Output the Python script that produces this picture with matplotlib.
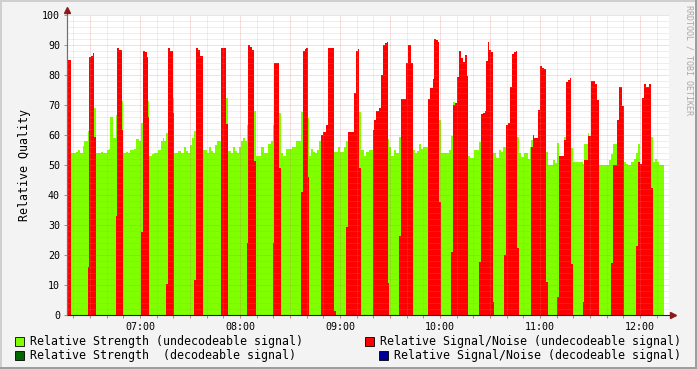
import numpy as np
import matplotlib.pyplot as plt
from matplotlib.patches import Rectangle
from matplotlib.lines import Line2D

# samples are 36 s apart, first one at 06:16:12 (minutes of day below)
t_start = 376.2
step_min = 0.6

# run lengths (number of 36 s samples) with the values of each run
seg_len = [1, 3, 5, 2, 2, 3, 1, 4, 1, 2, 2, 1, 2,
           5, 2, 4, 2, 1, 3, 3, 1, 2, 3, 1,
           3, 2, 2, 2, 2, 2, 3, 2,
           2, 2, 2, 1, 1,
           3, 2, 4, 3, 2, 1, 2, 2, 2, 3, 1,
           4, 3, 3, 2, 2, 2, 2, 2, 2,
           2, 2, 3,
           4, 2, 2, 2, 2, 2, 4,
           5, 2,
           3, 2, 2, 2, 2, 2, 2, 2, 2, 1,
           2, 2, 2, 2,
           5, 3, 4, 3, 2, 1,
           5, 2,
           2, 3, 6, 4, 5, 2,
           2, 1, 2, 1,
           2, 2, 2, 2, 2, 2,
           2, 3, 2, 6, 2,
           2, 2, 4, 2, 2,
           6, 2, 2, 1, 2,
           3, 2, 3, 4,
           1, 2, 3, 2, 2, 2, 2, 1, 1,
           2, 3, 2, 3, 2,
           5, 2, 3, 2,
           2, 2, 2, 2, 2, 5,
           2, 3, 1, 2, 2, 1, 2,
           8, 2, 2,
           2, 2, 2, 2, 2, 2, 2, 1,
           2, 2, 2, 5, 2,
           2, 2, 1, 2, 1, 2, 2, 1,
           2, 3, 2, 2, 1, 2,
           2, 2, 2, 2, 2, 1, 2,
           2, 3, 4, 2, 1,
           2, 1, 4, 2, 2, 2, 2, 2,
           5, 2, 2, 2,
           5, 2, 2, 2, 1, 2,
           10, 1, 4, 1, 2, 4, 2, 2,
           10, 2, 2, 4, 2, 3, 2,
           2, 2, 3, 3, 2, 2, 2,
           2, 2, 2, 3, 2, 2,
           2, 2, 2, 5]

strength = [0, 0, 54, 54.5, 55, 54, 56.5, 58, 61.5, 0, 0, 0, 69,
            54, 54.5, 54, 55, 55.5, 66, 59, 66.7, 0, 0, 71.3,
            54, 54.5, 54, 55, 55, 55.5, 58.7, 58,
            64, 0, 0, 0, 71.3,
            53.1, 53.6, 54, 55, 58, 59, 58, 60.8, 0, 0, 72.2,
            54, 54.7, 54, 55.9, 54.7, 54, 56.7, 58.9, 61.4,
            0, 0, 0,
            55, 54, 56, 54.7, 54, 56.7, 58,
            0, 72.2,
            54.7, 54, 56, 54.7, 54, 56, 58, 59.1, 58, 63.3,
            0, 0, 0, 68,
            53.1, 55.9, 54, 57, 58, 63.3,
            0, 67.4,
            54, 53.1, 55.2, 56.1, 58, 67.8,
            0, 0, 0, 65.8,
            53.1, 55.2, 54.4, 54, 55, 58,
            0, 0, 0, 0, 54.4,
            54.2, 56.1, 54.4, 56.1, 58,
            0, 0, 0, 0, 67.8,
            55, 53.1, 54.4, 55,
            0, 0, 0, 0, 0, 0, 0, 0, 58.6,
            55.9, 53.1, 55, 54, 59.4,
            0, 0, 0, 0,
            55, 54, 54.7, 57, 55.2, 56.1,
            68, 0, 0, 0, 0, 0, 65,
            54, 55, 59.8,
            71.1, 0, 0, 0, 0, 0, 0, 0,
            53.1, 52.4, 52.2, 55, 57.8,
            0, 0, 0, 0, 0, 0, 0, 53.9,
            53.9, 52.2, 55, 54.4, 56.1, 56.1,
            0, 0, 0, 0, 0, 0, 59.4,
            53.9, 52.8, 53.9, 52, 55.9,
            58.3, 0, 0, 0, 0, 0, 0, 54.4,
            50, 51.7, 50.6, 57.2,
            0, 59.4, 0, 0, 0, 55.6,
            50.9, 50.3, 57, 60.6, 0, 0, 0, 0,
            50, 51.7, 53.7, 57, 0, 0, 0,
            50.9, 50.3, 50, 50.9, 52, 53.9, 57,
            0, 0, 0, 0, 0, 59.4,
            51.1, 52, 50.9, 50]

snr = [87, 85, 0, 0, 0, 0, 0, 0, 16, 86, 86.5, 87.5, 59.5,
       0, 0, 0, 0, 0, 0, 0, 33, 89, 88.2, 61.7,
       0, 0, 0, 0, 0, 0, 0, 0,
       27.8, 88, 87.6, 86, 66,
       0, 0, 0, 0, 0, 0, 0, 10.3, 88.9, 88.1, 67.2,
       0, 0, 0, 0, 0, 0, 0, 0, 11.7,
       88.9, 88.3, 86.3,
       0, 0, 0, 0, 0, 0, 0,
       88.9, 63.7,
       0, 0, 0, 0, 0, 0, 0, 0, 0, 24.1,
       90, 89.4, 88.3, 51.3,
       0, 0, 0, 0, 0, 24,
       84.1, 49.1,
       0, 0, 0, 0, 0, 41.1,
       88.1, 88.6, 89.1, 46.1,
       0, 0, 0, 0, 0, 0,
       60, 61.1, 63.3, 89.1, 1.3,
       0, 0, 0, 0, 29.4,
       61.1, 74.1, 88.1, 88.6, 49.1,
       0, 0, 0, 0,
       61.7, 65, 68, 69.1, 80, 90, 90.8, 91, 10.6,
       0, 0, 0, 0, 26.3,
       71.9, 84.1, 90, 84.1,
       0, 0, 0, 0, 0, 0,
       71.9, 75.6, 78.6, 92, 91.7, 91.1, 37.8,
       0, 0, 21.1,
       70, 70.8, 79.4, 88.1, 85.6, 84.4, 86.7, 79.7,
       0, 0, 0, 0, 17.8,
       67, 67.4, 68, 84.8, 90.9, 88.3, 87.8, 4.4,
       0, 0, 0, 0, 0, 20,
       63.3, 63.9, 75.9, 87, 87.8, 88, 22.2,
       0, 0, 0, 0, 0,
       56.1, 60, 59.1, 68.3, 83, 82.2, 81.9, 11.1,
       0, 0, 0, 6.1,
       53, 58.3, 77.8, 78.3, 78.9, 17,
       0, 4.2, 51.7, 59.7, 59.7, 78, 77, 71.7,
       0, 0, 17.2, 50, 65, 75.9, 69.7,
       0, 0, 0, 0, 0, 23, 51.1,
       50.3, 72.2, 77, 75.9, 77, 42.4,
       0, 0, 0, 0]

hour_labels = ["07:00", "08:00", "09:00", "10:00", "11:00", "12:00"]
legend_left = ["Relative Strength (undecodeable signal)",
               "Relative Strength  (decodeable signal)"]
legend_right = ["Relative Signal/Noise (undecodeable signal)",
                "Relative Signal/Noise (decodeable signal)"]

edges = t_start + step_min * np.concatenate([[0], np.cumsum(seg_len)])

W, H = 697, 369
mono = "DejaVu Sans Mono"
fig = plt.figure(figsize=(W / 100, H / 100), dpi=100, facecolor="#F3F3F3")

# frame around the canvas
fig.add_artist(Rectangle((0, 1 - 2 / H), 1, 2 / H, transform=fig.transFigure, color="#CFCFCF", lw=0))
fig.add_artist(Rectangle((0, 0), 2 / W, 1, transform=fig.transFigure, color="#CFCFCF", lw=0))
fig.add_artist(Rectangle((1 - 2 / W, 0), 2 / W, 1, transform=fig.transFigure, color="#9E9E9E", lw=0))
fig.add_artist(Rectangle((0, 0), 1, 2 / H, transform=fig.transFigure, color="#9E9E9E", lw=0))

x0, x1, ytop, ybot = 67, 669, 15, 315
ax = fig.add_axes([x0 / W, (H - ybot) / H, (x1 - x0) / W, (ybot - ytop) / H])
ax.set_facecolor("white")
ax.set_xlim(edges[0], edges[0] + (x1 - x0) * step_min)
ax.set_ylim(0, 100)

ax.stairs(strength, edges, fill=True, color="#7FFF00", baseline=0, lw=0, zorder=1)
ax.stairs(snr, edges, fill=True, color="#FF0000", baseline=0, lw=0, zorder=2)

# grid, drawn over the areas like rrdtool does
dots = (0, (1, 1))
for m in range(380, 740, 10):
    if m % 30 == 0:
        ax.axvline(m, color="#D07070", lw=0.72, ls=dots, alpha=0.45, zorder=3)
    else:
        ax.axvline(m, color="#A0A0A0", lw=0.72, ls=dots, alpha=0.35, zorder=3)
for v in range(2, 101, 2):
    if v % 10 == 0:
        ax.axhline(v, color="#D07070", lw=0.72, ls=dots, alpha=0.45, zorder=3)
    else:
        ax.axhline(v, color="#A0A0A0", lw=0.72, ls=dots, alpha=0.35, zorder=3)

ax.set_xticks([420 + 60 * i for i in range(len(hour_labels))])
ax.set_xticklabels(hour_labels, fontsize=7.2, family=mono)
ax.set_xticks(range(380, 740, 10), minor=True)
ax.set_yticks(range(0, 101, 10))
ax.set_yticklabels([str(v) for v in range(0, 101, 10)], fontsize=7.2, family=mono)
ax.tick_params(axis="both", which="both", length=2, width=0.7, color="#C08080", pad=3)
for s in ["top", "right"]:
    ax.spines[s].set_visible(False)
ax.spines["left"].set_color("#707070")
ax.spines["bottom"].set_color("#202020")
ax.spines["left"].set_linewidth(0.8)
ax.spines["bottom"].set_linewidth(0.8)
ax.set_ylabel("Relative Quality", fontsize=8.4, family=mono, labelpad=8)

# axis arrows
fig.add_artist(Line2D([(x0 - 0.5) / W] * 2, [(H - ybot) / H, (H - 9) / H], color="#707070", lw=0.8))
fig.add_artist(Line2D([(x0 - 0.5) / W], [(H - 10) / H], marker="^", ms=4, color="#8B1A1A", lw=0))
fig.add_artist(Line2D([(x1 + 4) / W], [(H - ybot) / H], marker=">", ms=4, color="#8B1A1A", lw=0))

# legend
def legend_item(xbox, ycen, color, label):
    fig.add_artist(Rectangle((xbox / W, (H - ycen - 4.5) / H), 9 / W, 9 / H,
                             transform=fig.transFigure, facecolor=color,
                             edgecolor="black", lw=0.6))
    fig.text((xbox + 15) / W, (H - ycen) / H, label, fontsize=8.4, family=mono,
             va="center", ha="left")

legend_item(15, 341, "#7FFF00", legend_left[0])
legend_item(15, 355, "#006600", legend_left[1])
legend_item(365, 341, "#FF0000", legend_right[0])
legend_item(379, 355, "#000099", legend_right[1])

fig.text(689 / W, (H - 5) / H, "RRDTOOL / TOBI OETIKER", fontsize=6, family=mono,
         color="#A8A8A8", rotation=270, ha="center", va="top")

fig.savefig("out.png", dpi=100, facecolor=fig.get_facecolor())
